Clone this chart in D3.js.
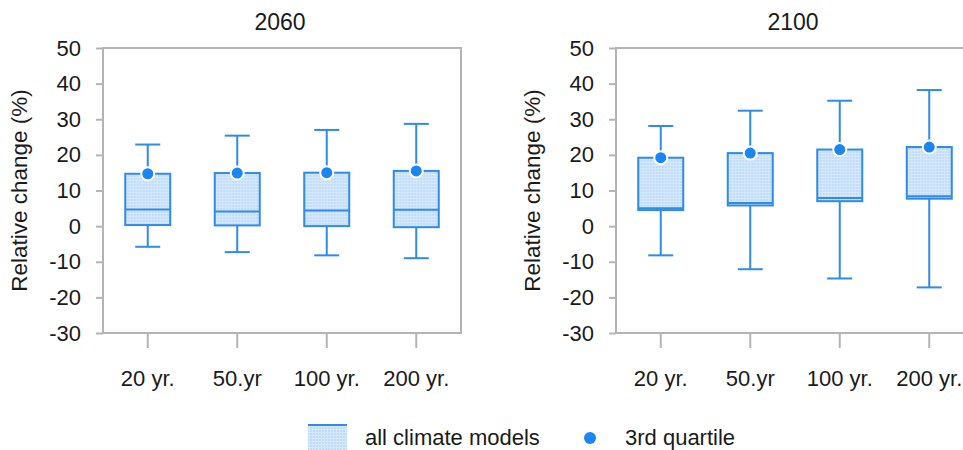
<!DOCTYPE html>
<html>
<head>
<meta charset="utf-8">
<script src="https://cdn.jsdelivr.net/npm/d3@7"></script>
<style>
  body { margin: 0; background: #fff; }
  svg text { font-family: "Liberation Sans", Arial, Helvetica, sans-serif; fill: #1a1a1a; }
</style>
</head>
<body>
<script>
// categories and tick labels
var categories = ["20 yr.", "50.yr", "100 yr.", "200 yr."];
var years = ["2060", "2100"];
var yTicks = [50, 40, 30, 20, 10, 0, -10, -20, -30];

// 2060 series
var max2060 = [22.9, 25.4, 27.0, 28.7];
var q3_2060 = [14.7, 14.9, 15.0, 15.5];
var median2060 = [4.7, 4.1, 4.4, 4.6];
var q1_2060 = [0.3, 0.2, 0.0, -0.3];
var min2060 = [-5.8, -7.3, -8.2, -9.0];

// 2100 series
var max2100 = [28.1, 32.4, 35.2, 38.2];
var q3_2100 = [19.2, 20.5, 21.5, 22.2];
var median2100 = [5.0, 6.5, 7.9, 8.4];
var q1_2100 = [4.5, 5.8, 7.0, 7.7];
var min2100 = [-8.2, -12.1, -14.7, -17.2];

var series = {
   "2060": { max: max2060, q3: q3_2060, med: median2060, q1: q1_2060, min: min2060 },
   "2100": { max: max2100, q3: q3_2100, med: median2100, q1: q1_2100, min: min2100 }
};

var boxColor = "#2f8be6",
   fillColor = "#c0dcfa",
   dotColor = "#1a86f2",
   frameColor = "#b4b4b4";

var svg = d3.select("body").append("svg")
   .attr("width", 963)
   .attr("height", 450);

// grid texture for the boxes
var pat = svg.append("defs").append("pattern")
   .attr("id", "grid")
   .attr("width", 3).attr("height", 3)
   .attr("patternUnits", "userSpaceOnUse");
pat.append("rect").attr("width", 3).attr("height", 3).attr("fill", fillColor);
pat.append("path").attr("d", "M0,0.5H3M0.5,0V3")
   .attr("stroke", "#d6e8fc").attr("stroke-width", 1);

var plotW = 358, plotH = 285, plotTop = 48;
var lefts = [103, 616];

var y = d3.scaleLinear().domain([-30, 50]).range([plotTop + plotH, plotTop]);

years.forEach(function(year, p) {
   var s = series[year];
   var x = d3.scaleBand().domain(categories).range([0, plotW]);
   var g = svg.append("g").attr("transform", "translate(" + lefts[p] + ",0)");

   // title
   g.append("text")
      .attr("x", plotW / 2 - 2).attr("y", 30)
      .attr("text-anchor", "middle")
      .style("font-size", "23px")
      .text(year);

   // y axis label
   g.append("text")
      .attr("transform", "translate(-76," + (plotTop + plotH / 2) + ") rotate(-90)")
      .attr("text-anchor", "middle")
      .style("font-size", "22.5px")
      .text("Relative change (%)");

   // axes
   var ya = g.append("g")
      .call(d3.axisLeft(y).tickValues(yTicks).tickSize(7).tickPadding(15)
         .tickFormat(function(d) { return String(d); }));
   var xa = g.append("g")
      .attr("transform", "translate(0," + (plotTop + plotH) + ")")
      .call(d3.axisBottom(x).tickSize(15).tickPadding(22));
   [ya, xa].forEach(function(a) {
      a.select(".domain").remove();
      a.selectAll("line").attr("stroke", frameColor).attr("stroke-width", 2);
      a.selectAll("text").style("font-size", "22px").attr("fill", "#1a1a1a");
   });

   // frame
   g.append("rect")
      .attr("x", 0).attr("y", plotTop)
      .attr("width", plotW).attr("height", plotH)
      .attr("fill", "none")
      .attr("stroke", frameColor)
      .attr("stroke-width", 2);

   var bw = 45, cap = 25;
   var boxes = g.selectAll(".box")
      .data(categories)
      .enter().append("g")
      .attr("class", "box")
      .attr("transform", function(d) { return "translate(" + (x(d) + x.bandwidth() / 2) + ",0)"; });

   // whiskers
   boxes.append("line")
      .attr("y1", function(d, i) { return y(s.max[i]); })
      .attr("y2", function(d, i) { return y(s.min[i]); })
      .attr("stroke", boxColor).attr("stroke-width", 2);
   boxes.append("line")
      .attr("x1", -cap / 2).attr("x2", cap / 2)
      .attr("y1", function(d, i) { return y(s.max[i]); })
      .attr("y2", function(d, i) { return y(s.max[i]); })
      .attr("stroke", boxColor).attr("stroke-width", 2);
   boxes.append("line")
      .attr("x1", -cap / 2).attr("x2", cap / 2)
      .attr("y1", function(d, i) { return y(s.min[i]); })
      .attr("y2", function(d, i) { return y(s.min[i]); })
      .attr("stroke", boxColor).attr("stroke-width", 2);

   // box
   boxes.append("rect")
      .attr("x", -bw / 2).attr("width", bw)
      .attr("y", function(d, i) { return y(s.q3[i]); })
      .attr("height", function(d, i) { return y(s.q1[i]) - y(s.q3[i]); })
      .attr("fill", "url(#grid)")
      .attr("stroke", boxColor).attr("stroke-width", 2);

   // median
   boxes.append("line")
      .attr("x1", -bw / 2).attr("x2", bw / 2)
      .attr("y1", function(d, i) { return y(s.med[i]); })
      .attr("y2", function(d, i) { return y(s.med[i]); })
      .attr("stroke", boxColor).attr("stroke-width", 2);

   // 3rd quartile dot
   boxes.append("circle")
      .attr("cy", function(d, i) { return y(s.q3[i]); })
      .attr("r", 6.5)
      .attr("fill", dotColor)
      .attr("stroke", "#fff").attr("stroke-width", 2);
});

// legend
var lg = svg.append("g");
lg.append("rect")
   .attr("x", 308).attr("y", 424).attr("width", 39).attr("height", 30)
   .attr("fill", "url(#grid)");
lg.append("line")
   .attr("x1", 308).attr("x2", 347).attr("y1", 425).attr("y2", 425)
   .attr("stroke", boxColor).attr("stroke-width", 2);
lg.append("text")
   .attr("x", 365).attr("y", 445)
   .style("font-size", "22px")
   .text("all climate models");
lg.append("circle")
   .attr("cx", 590).attr("cy", 438).attr("r", 6)
   .attr("fill", dotColor);
lg.append("text")
   .attr("x", 625).attr("y", 445)
   .style("font-size", "22px")
   .text("3rd quartile");
</script>
</body>
</html>
